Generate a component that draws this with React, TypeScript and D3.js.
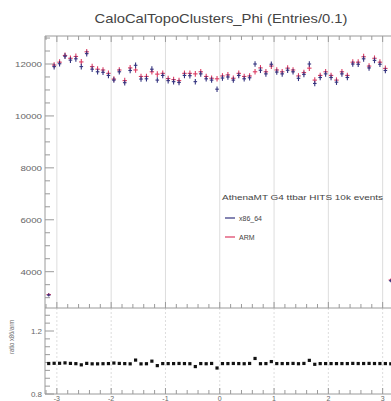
import React from "react";
import * as d3 from "d3";

const W = 391;
const H = 401;

const binCenters: number[] = d3.range(64).map((i) => +(-3.15 + i * 0.1).toFixed(2));

const armValues: number[] = [
  3120, 11960, 12070, 12330, 12220, 12290, 12080, 12470, 11900, 11800, 11770, 11640, 11420, 11770, 11360, 11850,
  11770, 11520, 11520, 11700, 11610, 11640, 11440, 11400, 11360, 11640, 11640, 11620, 11700, 11520, 11450, 11430,
  11540, 11580, 11450, 11640, 11520, 11540, 11700, 11850, 11700, 11920, 11770, 11700, 11840, 11770, 11540, 11670,
  11840, 11380, 11560, 11700, 11560, 11380, 11700, 11560, 12070, 12070, 12280, 11920, 12220, 12070, 11830, 3680,
];

const x86Values: number[] = [
  3100, 11900, 12010, 12300, 12150, 12200, 11900, 12400, 11800, 11700, 11680, 11560, 11380, 11700, 11280, 11750,
  11950, 11420, 11430, 11800, 11380, 11560, 11360, 11320, 11290, 11560, 11550, 11320, 11620, 11430, 11380, 11030,
  11460, 11500, 11380, 11560, 11430, 11470, 12000, 11760, 11620, 11990, 11690, 11620, 11760, 11700, 11450, 11600,
  12000, 11250, 11480, 11620, 11480, 11300, 11620, 11480, 12000, 11990, 12200, 11850, 12140, 11990, 11750, 3650,
];

const mainYTicks: number[] = [4000, 6000, 8000, 10000, 12000];
const ratioYTicks: number[] = [0.8, 1.2];
const xTicks: number[] = [-3, -2, -1, 0, 1, 2, 3];

const titleText = "CaloCalTopoClusters_Phi (Entries/0.1)";
const legendHeader = "AthenaMT G4  ttbar HITS 10k events";
const seriesNames = ["x86_64", "ARM"];
const ratioLabel = "ratio x86/arm";

const BLUE = "#33337f";
const RED = "#dc3b62";
const AXIS = "#9a9a9a";
const GRID = "#dddddd";
const TEXT = "#666666";

export default function App() {
  const left = 45;
  const right = 420;
  const mainTop = 36;
  const mainBottom = 308;
  const ratioTop = 308;
  const ratioBottom = 394;

  const x = d3.scaleLinear().domain([-3.2, 3.2]).range([46, 393.5]);
  const yMain = d3.scaleLinear().domain([4000, 12000]).range([271.7, 64]);
  const yRatio = d3.scaleLinear().domain([0.8, 1.2]).range([394, 331]);

  const minorX = d3.range(-3.2, 3.21, 0.2).map((v) => +v.toFixed(2));
  const minorYMain = d3.range(3000, 13001, 500).filter((v) => yMain(v) > mainTop && yMain(v) <= mainBottom);
  const minorYRatio = d3.range(0.8, 1.36, 0.05).map((v) => +v.toFixed(2)).filter((v) => yRatio(v) >= ratioTop);

  const ratios = x86Values.map((v, i) => v / armValues[i]);

  const font = "Liberation Sans, Arial, Helvetica, sans-serif";

  const drawSeries = (vals: number[], color: string, hw: number) =>
    vals.map((v, i) => {
      const cx = x(binCenters[i]);
      const err = Math.sqrt(v);
      return (
        <g key={i} stroke={color} strokeWidth={1.1}>
          <line x1={cx - hw} x2={cx + hw} y1={yMain(v)} y2={yMain(v)} />
          <line x1={cx} x2={cx} y1={yMain(v + err)} y2={yMain(v - err)} />
        </g>
      );
    });

  return (
    <svg width={W} height={H} style={{ position: "absolute", left: 0, top: 0, background: "#fff" }} fontFamily={font}>
      <rect x={0} y={0} width={W} height={H} fill="#fff" />
      {/* title */}
      <text x={221} y={23} textAnchor="middle" fontSize={13} fill="#444" textLength={253} lengthAdjust="spacingAndGlyphs">
        {titleText}
      </text>

      {/* grid lines */}
      {xTicks.map((t) => (
        <line key={"gm" + t} x1={x(t)} x2={x(t)} y1={mainTop} y2={mainBottom} stroke={GRID} strokeWidth={1} />
      ))}
      {xTicks.map((t) => (
        <line key={"gr" + t} x1={x(t)} x2={x(t)} y1={ratioTop} y2={ratioBottom} stroke={GRID} strokeWidth={1} strokeDasharray="2,2" />
      ))}

      {/* frames */}
      <line x1={left} x2={right} y1={mainTop} y2={mainTop} stroke={AXIS} />
      <line x1={left} x2={left} y1={mainTop} y2={ratioBottom} stroke={AXIS} />
      <line x1={left} x2={right} y1={mainBottom} y2={mainBottom} stroke={AXIS} />
      <line x1={left} x2={right} y1={ratioBottom} y2={ratioBottom} stroke={AXIS} />

      {/* x ticks */}
      {minorX.map((t) => {
        const major = Math.abs(t - Math.round(t)) < 1e-6;
        const len = major ? 6 : 4;
        return (
          <g key={"xt" + t} stroke={AXIS}>
            <line x1={x(t)} x2={x(t)} y1={mainBottom} y2={mainBottom - len} />
            <line x1={x(t)} x2={x(t)} y1={ratioBottom} y2={ratioBottom - len} />
            <line x1={x(t)} x2={x(t)} y1={mainTop} y2={mainTop + len} />
          </g>
        );
      })}
      {xTicks.map((t) => (
        <text key={"xl" + t} x={x(t)} y={400.5} textAnchor="middle" fontSize={7} fill={TEXT}>
          {t}
        </text>
      ))}

      {/* main y ticks */}
      {minorYMain.map((v) => {
        const major = v % 2000 === 0;
        return <line key={"ym" + v} x1={left} x2={left + (major ? 9 : 5)} y1={yMain(v)} y2={yMain(v)} stroke={AXIS} />;
      })}
      {mainYTicks.map((v) => (
        <text
          key={"yl" + v}
          x={42}
          y={yMain(v) + 3}
          textAnchor="end"
          fontSize={8}
          fill={TEXT}
          textLength={String(v).length * 5.4}
          lengthAdjust="spacingAndGlyphs"
        >
          {v}
        </text>
      ))}

      {/* ratio y ticks */}
      {minorYRatio.map((v) => {
        const major = ratioYTicks.some((m) => Math.abs(m - v) < 1e-6);
        return <line key={"yr" + v} x1={left} x2={left + (major ? 9 : 5)} y1={yRatio(v)} y2={yRatio(v)} stroke={AXIS} />;
      })}
      {ratioYTicks.map((v) => (
        <text key={"rl" + v} x={42} y={Math.min(yRatio(v) + 3, 397)} textAnchor="end" fontSize={8} fill={TEXT}>
          {v.toFixed(1)}
        </text>
      ))}
      <text
        transform={`translate(14,337) rotate(-90)`}
        textAnchor="middle"
        fontSize={7}
        fill={TEXT}
        textLength={34}
        lengthAdjust="spacingAndGlyphs"
      >
        {ratioLabel}
      </text>

      {/* data */}
      <g>{drawSeries(armValues, RED, 2.2)}</g>
      <g>{drawSeries(x86Values, BLUE, 1.8)}</g>

      {/* ratio points */}
      {ratios.map((r, i) => (
        <rect key={"r" + i} x={x(binCenters[i]) - 1.6} y={yRatio(r) - 1.6} width={3.2} height={3.2} fill="#111" />
      ))}

      {/* legend */}
      <text x={222} y={200} fontSize={7} fill="#444" textLength={161} lengthAdjust="spacingAndGlyphs">
        {legendHeader}
      </text>
      <line x1={225} x2={235} y1={218} y2={218} stroke={BLUE} strokeWidth={1.2} />
      <text x={239} y={220.5} fontSize={7} fill="#444">
        {seriesNames[0]}
      </text>
      <line x1={225} x2={235} y1={237} y2={237} stroke={RED} strokeWidth={1.2} />
      <text x={239} y={239.5} fontSize={7} fill="#444">
        {seriesNames[1]}
      </text>
    </svg>
  );
}
